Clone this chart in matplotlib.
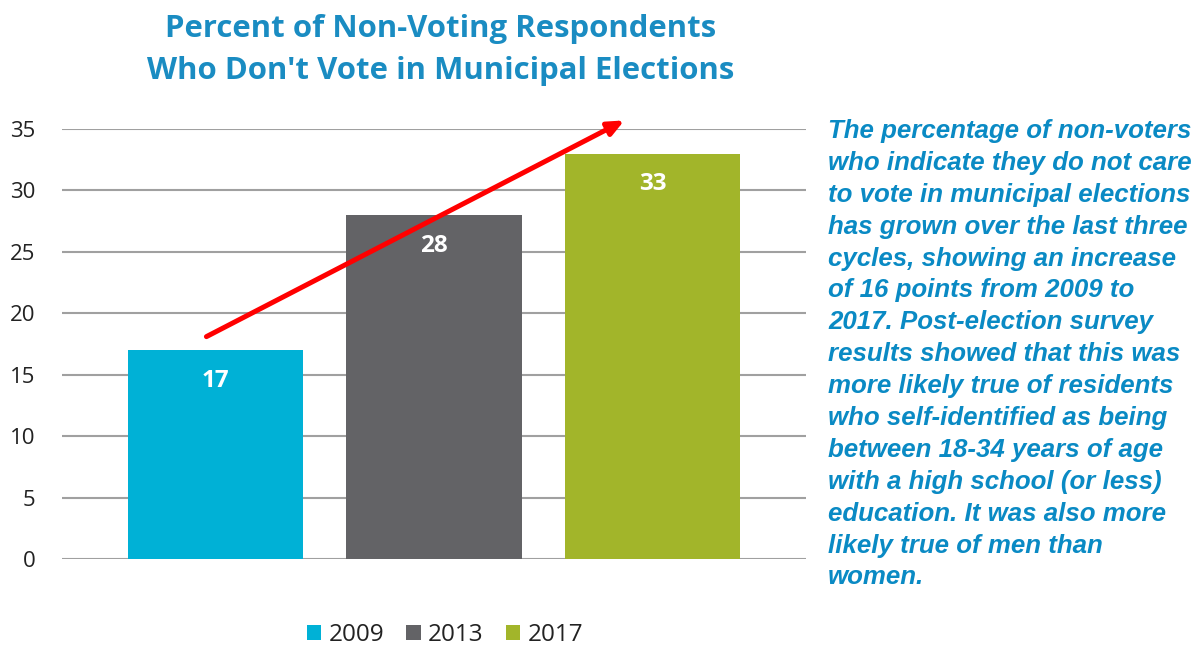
import matplotlib
matplotlib.use("Agg")
import matplotlib.pyplot as plt
import numpy as np

years = ["2009", "2013", "2017"]
values = [17, 28, 33]
colors = ["#00B1D6", "#636366", "#A2B52A"]
yticks = [0, 5, 10, 15, 20, 25, 30, 35]

title = "Percent of Non-Voting Respondents\nWho Don't Vote in Municipal Elections"
note = ("The percentage of non-voters\n"
        "who indicate they do not care\n"
        "to vote in municipal elections\n"
        "has grown over the last three\n"
        "cycles, showing an increase\n"
        "of 16 points from 2009 to\n"
        "2017. Post-election survey\n"
        "results showed that this was\n"
        "more likely true of residents\n"
        "who self-identified as being\n"
        "between 18-34 years of age\n"
        "with a high school (or less)\n"
        "education. It was also more\n"
        "likely true of men than\n"
        "women.")

W, H = 1200, 648
fig = plt.figure(figsize=(W / 100, H / 100), dpi=100)
ax = fig.add_axes([62 / W, 1 - 559 / H, (806 - 62) / W, (559 - 129) / H])

x = np.arange(len(years))
bars = ax.bar(x, values, width=0.8, color=colors, zorder=3, label=years)
ax.set_xlim(-0.70, 2.70)
ax.set_ylim(0, 35)
ax.set_yticks(yticks)
ax.set_yticklabels([str(t) for t in yticks], fontsize=16, color="#222222",
                   family="Open Sans")
ax.tick_params(axis="y", length=0, pad=19)
ax.set_xticks([])
ax.grid(axis="y", color="#A0A0A0", linewidth=1.5, zorder=0)
for s in ax.spines.values():
    s.set_visible(False)

for xi, v in zip(x, values):
    ax.text(xi, v - 2.5, str(v), ha="center", va="center", color="white",
            fontsize=17.5, fontweight="bold", family="Open Sans", zorder=4)

# trend arrow
ax.annotate("", xy=(1.87, 35.7), xytext=(-0.04, 18.1),
            arrowprops=dict(arrowstyle="-|>,head_length=0.95,head_width=0.42",
                            color="#FF0000", lw=3.6, shrinkA=0, shrinkB=0),
            annotation_clip=False, zorder=5)

fig.text(441 / W, 1 - 50 / H, title, ha="center", va="center", fontsize=22.4,
         fontweight="bold", color="#1A8CC2", family="Open Sans",
         linespacing=1.55)

fig.text(828 / W, 1 - 119 / H, note, ha="left", va="top", fontsize=18.6,
         fontweight="bold", fontstyle="italic", color="#0A8AC4",
         family="Liberation Sans", linespacing=1.415)

leg = fig.legend(handles=list(bars), labels=years, loc="center",
                 bbox_to_anchor=(445 / W, 1 - 635 / H), ncol=3, frameon=False,
                 prop={"family": "Open Sans", "size": 17.5},
                 handlelength=0.6, handleheight=0.6, handletextpad=0.3,
                 columnspacing=0.9, labelcolor="#222222")

fig.savefig("out.png", dpi=100, facecolor="white")
